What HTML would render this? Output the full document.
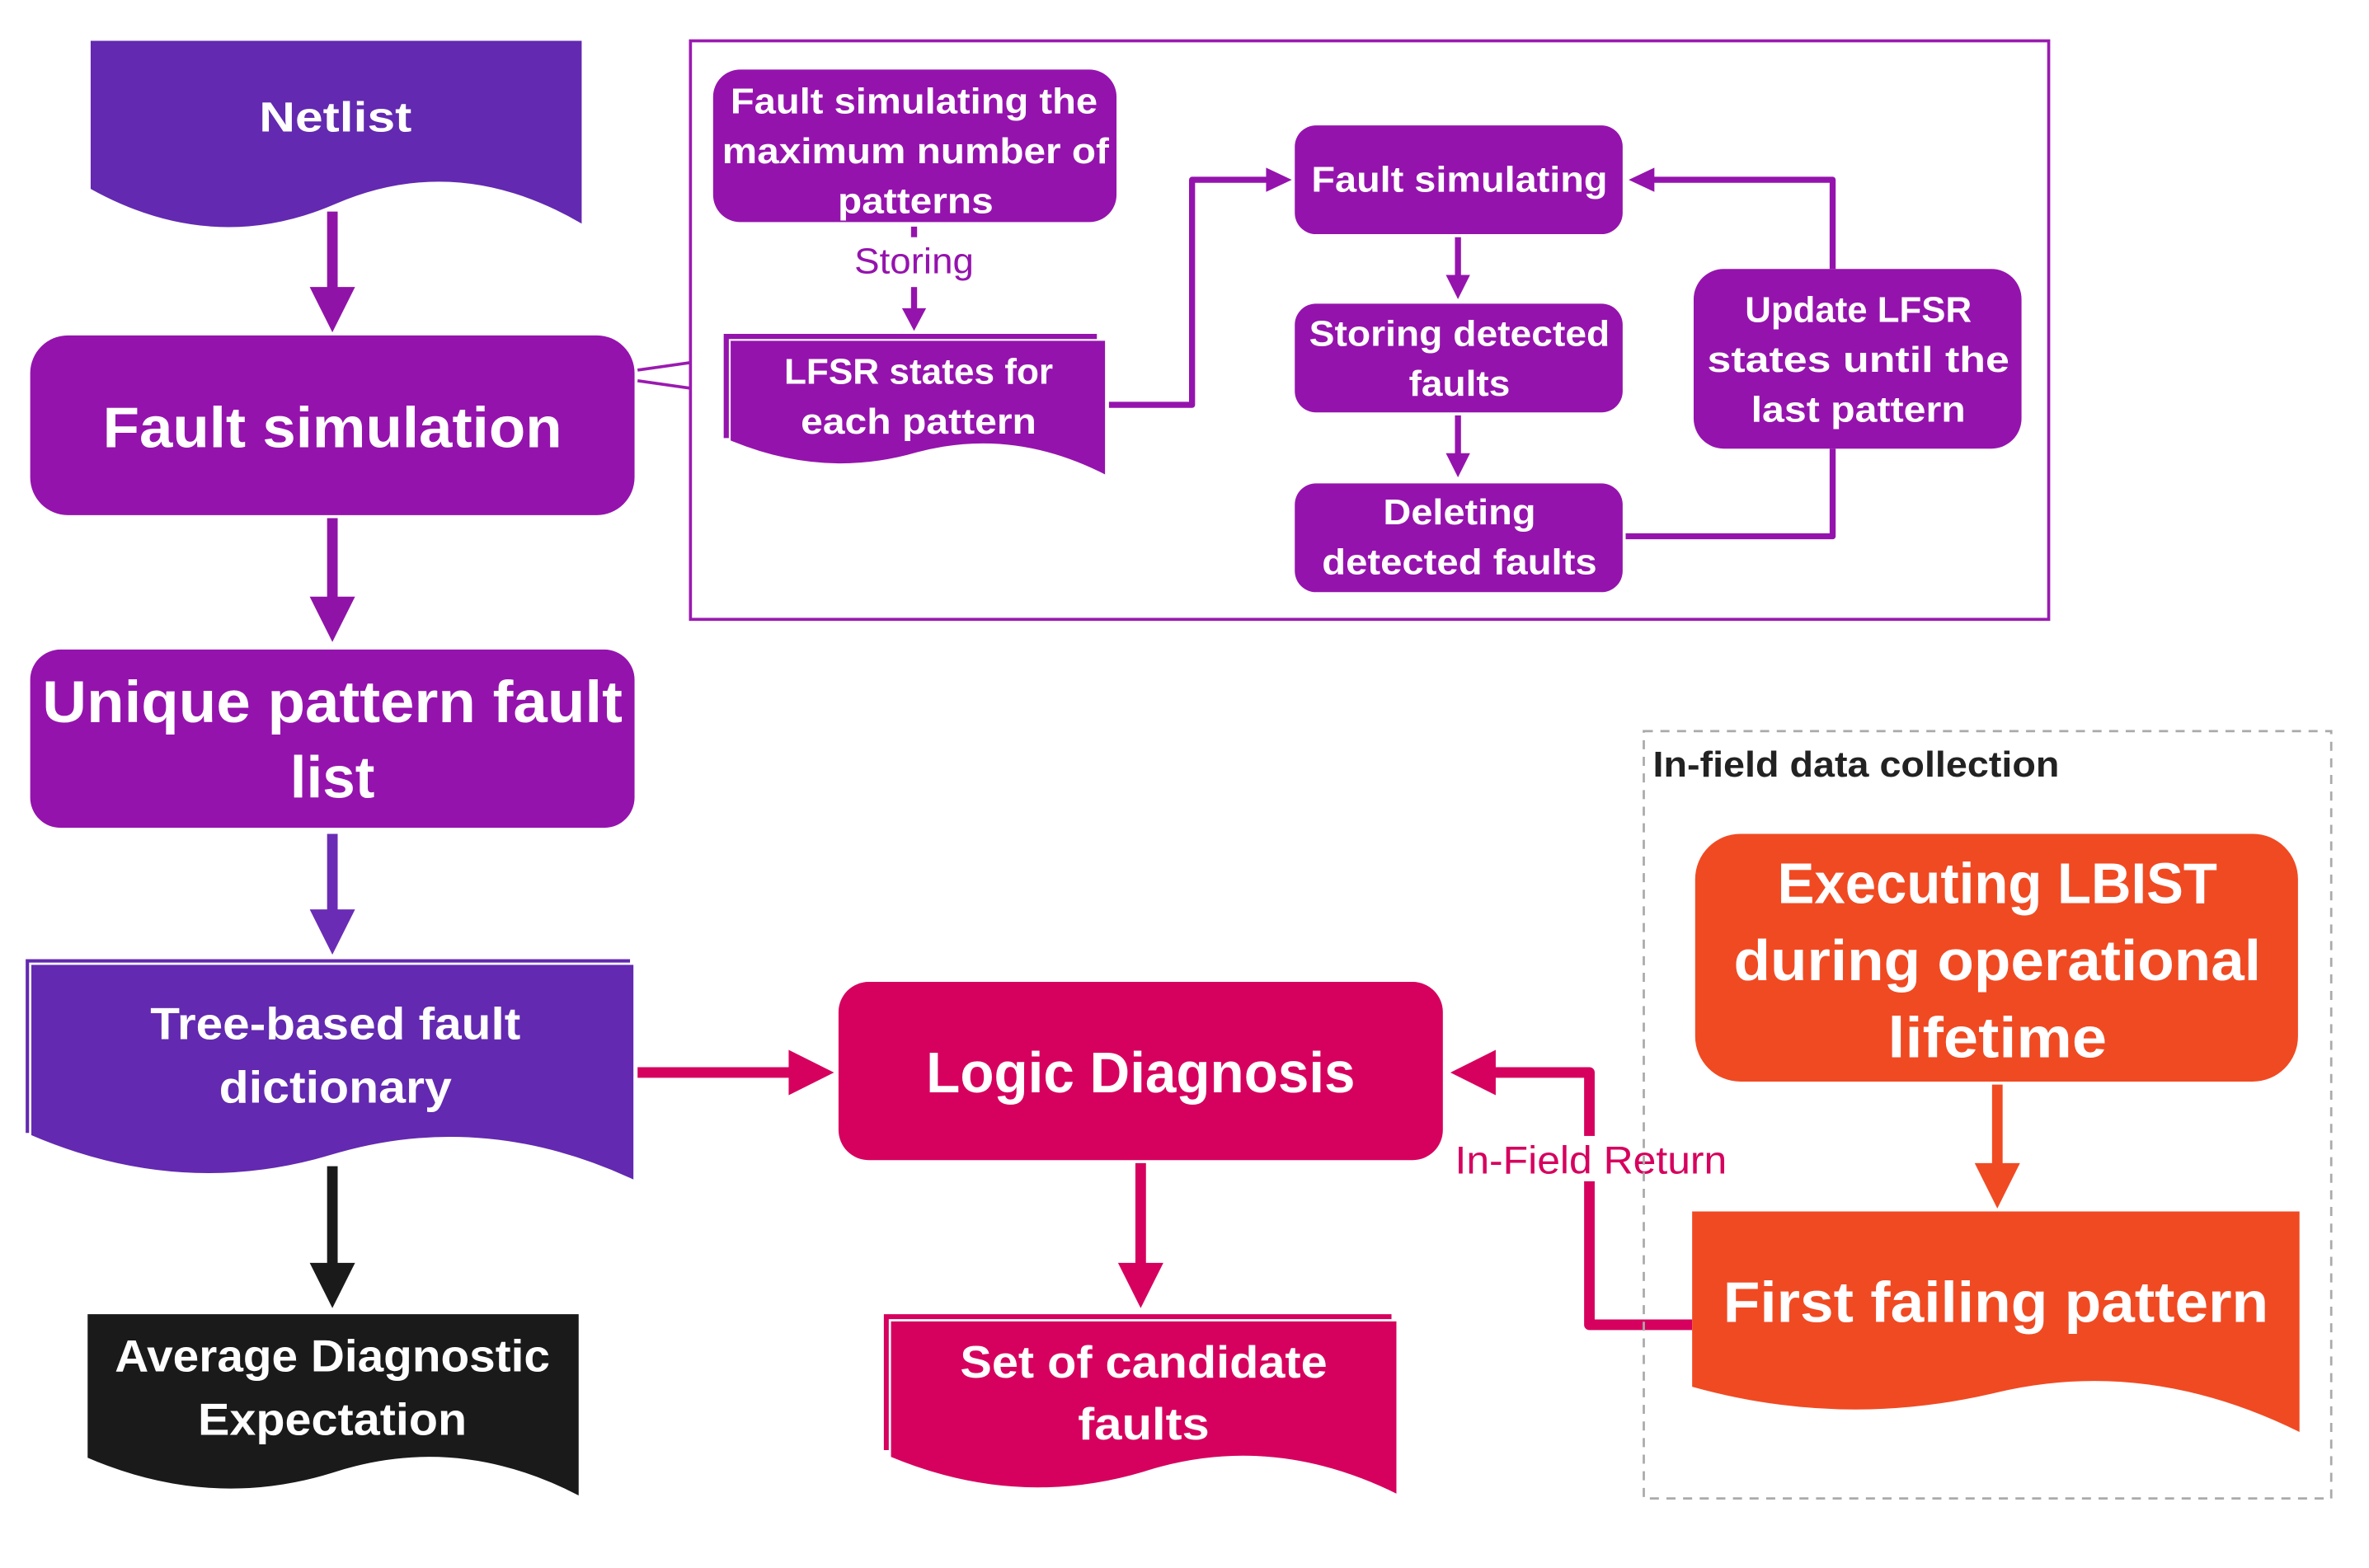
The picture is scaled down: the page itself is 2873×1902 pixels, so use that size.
<!DOCTYPE html>
<html><head><meta charset="utf-8"><style>
html,body{margin:0;padding:0;background:#fff;}
svg{display:block;}
text{font-family:"Liberation Sans",sans-serif;}
.w{fill:#fff;font-weight:bold;text-anchor:middle;}
</style></head><body>
<svg width="2873" height="1902" viewBox="0 0 1568 1038" xmlns="http://www.w3.org/2000/svg">
<defs>
<marker id="ap" markerWidth="10" markerHeight="10" refX="9" refY="5" orient="auto" markerUnits="userSpaceOnUse"></marker>
</defs>
<rect width="1568" height="1038" fill="#fff"/>

<!-- Netlist -->
<path d="M60,27 H385 V148 Q303,100 222,135 Q141,170 60,125 Z" fill="#6329b0"/>
<text class="w" x="222" y="87" font-size="28" textLength="101" lengthAdjust="spacingAndGlyphs">Netlist</text>

<!-- arrows left column -->
<line x1="220" y1="140" x2="220" y2="192" stroke="#9013a8" stroke-width="7"/>
<path d="M205,190 L235,190 L220,220 Z" fill="#9013a8"/>

<rect x="20" y="222" width="400" height="119" rx="25" fill="#9513ad"/>
<text class="w" x="220" y="296" font-size="38" textLength="304" lengthAdjust="spacingAndGlyphs">Fault simulation</text>

<line x1="220" y1="343" x2="220" y2="397" stroke="#9013a8" stroke-width="7"/>
<path d="M205,395 L235,395 L220,425 Z" fill="#9013a8"/>

<rect x="20" y="430" width="400" height="118" rx="20" fill="#9513ad"/>
<text class="w" x="220" y="478" font-size="39" textLength="384" lengthAdjust="spacingAndGlyphs">Unique pattern fault</text>
<text class="w" x="220" y="528" font-size="39" textLength="56" lengthAdjust="spacingAndGlyphs">list</text>

<line x1="220" y1="552" x2="220" y2="604" stroke="#6a2cb5" stroke-width="7"/>
<path d="M205,602 L235,602 L220,632 Z" fill="#6a2cb5"/>

<!-- Tree-based -->
<path d="M17,635 H417 V750 H17 Z" fill="#6329b0"/>
<path d="M20,638 H420 V782 Q320,735 220,765 Q120,795 20,752 Z" fill="#6329b0" stroke="#fff" stroke-width="1.5"/>
<text class="w" x="222" y="688" font-size="30" textLength="245" lengthAdjust="spacingAndGlyphs">Tree-based fault</text>
<text class="w" x="222" y="730" font-size="30" textLength="154" lengthAdjust="spacingAndGlyphs">dictionary</text>

<line x1="220" y1="772" x2="220" y2="838" stroke="#1a1a1a" stroke-width="7"/>
<path d="M205,836 L235,836 L220,866 Z" fill="#1a1a1a"/>

<path d="M58,870 H383 V990 Q302,948 220,975 Q139,1000 58,965 Z" fill="#1a1a1a"/>
<text class="w" x="220" y="908" font-size="30" textLength="288" lengthAdjust="spacingAndGlyphs">Average Diagnostic</text>
<text class="w" x="220" y="950" font-size="30" textLength="178" lengthAdjust="spacingAndGlyphs">Expectation</text>

<!-- to Logic diagnosis -->
<line x1="422" y1="710" x2="524" y2="710" stroke="#d6005e" stroke-width="7"/>
<path d="M522,695 L552,710 L522,725 Z" fill="#d6005e"/>

<rect x="555" y="650" width="400" height="118" rx="20" fill="#d6005e"/>
<text class="w" x="755" y="723" font-size="38" textLength="284" lengthAdjust="spacingAndGlyphs">Logic Diagnosis</text>

<line x1="755" y1="770" x2="755" y2="838" stroke="#d6005e" stroke-width="7"/>
<path d="M740,836 L770,836 L755,866 Z" fill="#d6005e"/>

<path d="M585,870 H921 V960 H585 Z" fill="#d6005e"/>
<path d="M589,874 H925 V990 Q841,948 757,975 Q673,1000 589,965 Z" fill="#d6005e" stroke="#fff" stroke-width="1.5"/>
<text class="w" x="757" y="912" font-size="30" textLength="243" lengthAdjust="spacingAndGlyphs">Set of candidate</text>
<text class="w" x="757" y="953" font-size="30" textLength="87" lengthAdjust="spacingAndGlyphs">faults</text>

<!-- In-field return connector -->
<path d="M1120,877 H1052 V710 H988" fill="none" stroke="#d6005e" stroke-width="7" stroke-linejoin="round"/>
<path d="M990,695 L960,710 L990,725 Z" fill="#d6005e"/>
<rect x="962" y="752" width="182" height="30" fill="#fff"/>
<text x="1053" y="777" font-size="26" fill="#d6005e" text-anchor="middle" textLength="180" lengthAdjust="spacingAndGlyphs">In-Field Return</text>

<!-- dashed box -->
<rect x="1088" y="484" width="455" height="508" fill="none" stroke="#aaa" stroke-width="1.5" stroke-dasharray="6,5"/>
<text x="1094" y="514" font-size="24" font-weight="bold" fill="#222" textLength="269" lengthAdjust="spacingAndGlyphs">In-field data collection</text>

<rect x="1122" y="552" width="399" height="164" rx="30" fill="#f04a23"/>
<text class="w" x="1322" y="598" font-size="38" textLength="291" lengthAdjust="spacingAndGlyphs">Executing LBIST</text>
<text class="w" x="1322" y="649" font-size="38" textLength="349" lengthAdjust="spacingAndGlyphs">during operational</text>
<text class="w" x="1322" y="700" font-size="38" textLength="145" lengthAdjust="spacingAndGlyphs">lifetime</text>

<line x1="1322" y1="718" x2="1322" y2="772" stroke="#f04a23" stroke-width="7"/>
<path d="M1307,770 L1337,770 L1322,800 Z" fill="#f04a23"/>

<path d="M1120,802 H1522 V948 Q1421,898 1321,922 Q1220,946 1120,918 Z" fill="#f04a23"/>
<text class="w" x="1321" y="875" font-size="38" textLength="361" lengthAdjust="spacingAndGlyphs">First failing pattern</text>

<!-- top group box -->
<rect x="457" y="27" width="899" height="383" fill="none" stroke="#9a1ab0" stroke-width="2"/>
<path d="M422,245 L457,240 M422,252 L457,257" stroke="#9a1ab0" stroke-width="2" fill="none"/>

<rect x="472" y="46" width="267" height="101" rx="18" fill="#9513ad"/>
<text class="w" x="605" y="75" font-size="24" textLength="243" lengthAdjust="spacingAndGlyphs">Fault simulating the</text>
<text class="w" x="606" y="108" font-size="24" textLength="256" lengthAdjust="spacingAndGlyphs">maximum number of</text>
<text class="w" x="606" y="141" font-size="24" textLength="103" lengthAdjust="spacingAndGlyphs">patterns</text>

<line x1="605" y1="150" x2="605" y2="157" stroke="#9513ad" stroke-width="4"/>
<text x="605" y="181" font-size="24" fill="#9513ad" text-anchor="middle" textLength="79" lengthAdjust="spacingAndGlyphs">Storing</text>
<line x1="605" y1="190" x2="605" y2="206" stroke="#9513ad" stroke-width="4"/>
<path d="M597,204 L613,204 L605,219 Z" fill="#9513ad"/>

<path d="M479,221 H726 V290 H479 Z" fill="#9513ad"/>
<path d="M483,225 H732 V315 Q670,283 607,300 Q545,318 483,292 Z" fill="#9513ad" stroke="#fff" stroke-width="1.2"/>
<text class="w" x="608" y="254" font-size="24" textLength="178" lengthAdjust="spacingAndGlyphs">LFSR states for</text>
<text class="w" x="608" y="287" font-size="24" textLength="156" lengthAdjust="spacingAndGlyphs">each pattern</text>

<path d="M734,268 H789 V119 H840" fill="none" stroke="#9513ad" stroke-width="4" stroke-linejoin="round"/>
<path d="M838,111 L855,119 L838,127 Z" fill="#9513ad"/>

<rect x="857" y="83" width="217" height="72" rx="14" fill="#9513ad"/>
<text class="w" x="966" y="127" font-size="24" textLength="196" lengthAdjust="spacingAndGlyphs">Fault simulating</text>

<line x1="965" y1="157" x2="965" y2="184" stroke="#9513ad" stroke-width="4"/>
<path d="M957,182 L973,182 L965,198 Z" fill="#9513ad"/>

<rect x="857" y="201" width="217" height="72" rx="14" fill="#9513ad"/>
<text class="w" x="966" y="229" font-size="24" textLength="199" lengthAdjust="spacingAndGlyphs">Storing detected</text>
<text class="w" x="966" y="262" font-size="24" textLength="67" lengthAdjust="spacingAndGlyphs">faults</text>

<line x1="965" y1="275" x2="965" y2="302" stroke="#9513ad" stroke-width="4"/>
<path d="M957,300 L973,300 L965,316 Z" fill="#9513ad"/>

<rect x="857" y="320" width="217" height="72" rx="14" fill="#9513ad"/>
<text class="w" x="966" y="347" font-size="24" textLength="101" lengthAdjust="spacingAndGlyphs">Deleting</text>
<text class="w" x="966" y="380" font-size="24" textLength="182" lengthAdjust="spacingAndGlyphs">detected faults</text>

<path d="M1076,355 H1213 V297" fill="none" stroke="#9513ad" stroke-width="4" stroke-linejoin="round"/>

<rect x="1121" y="178" width="217" height="119" rx="20" fill="#9513ad"/>
<text class="w" x="1230" y="213" font-size="24" textLength="150" lengthAdjust="spacingAndGlyphs">Update LFSR</text>
<text class="w" x="1230" y="246" font-size="24" textLength="200" lengthAdjust="spacingAndGlyphs">states until the</text>
<text class="w" x="1230" y="279" font-size="24" textLength="142" lengthAdjust="spacingAndGlyphs">last pattern</text>

<path d="M1213,178 V119 H1093" fill="none" stroke="#9513ad" stroke-width="4" stroke-linejoin="round"/>
<path d="M1095,111 L1078,119 L1095,127 Z" fill="#9513ad"/>
</svg>
</body></html>
